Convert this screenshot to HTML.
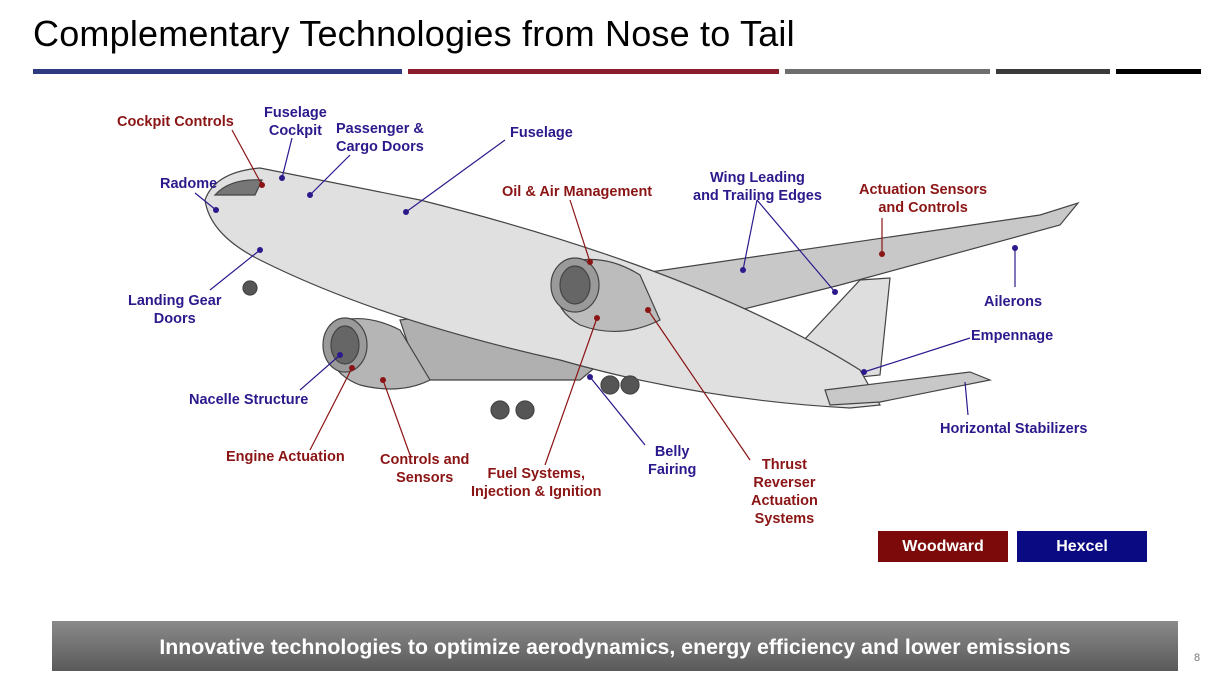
<!DOCTYPE html>
<html><head><meta charset="utf-8"><style>
body{margin:0;width:1217px;height:679px;background:#fff;position:relative;overflow:hidden;font-family:"Liberation Sans",Arial,sans-serif}
.t{position:absolute;left:33px;top:13px;font-size:36px;color:#000;letter-spacing:0.2px}
.bar{position:absolute;top:69px;height:5px}
.l{position:absolute;font-weight:bold;font-size:14.5px;text-align:center;line-height:18px;white-space:nowrap}
.r{color:#8b1414}.b{color:#2b1a8c}
.lg{position:absolute;top:531px;height:31px;width:130px;color:#fff;font-weight:bold;font-size:16px;text-align:center;line-height:31px}
.ban{position:absolute;left:52px;top:621px;width:1126px;height:50px;background:linear-gradient(#8a8a8a,#5a5a5a);color:#fff;font-weight:bold;font-size:21.3px;text-align:center;line-height:52px}
</style></head><body>
<div class="t">Complementary Technologies from Nose to Tail</div>
<div class="bar" style="left:33px;width:369px;background:#2e3a82"></div>
<div class="bar" style="left:408px;width:371px;background:#8b1e2c"></div>
<div class="bar" style="left:785px;width:205px;background:#6e6e6e"></div>
<div class="bar" style="left:996px;width:114px;background:#3a3a3a"></div>
<div class="bar" style="left:1116px;width:85px;background:#000"></div>
<svg style="position:absolute;left:0;top:0" width="1217" height="679">
<g stroke="#444" stroke-width="1.2" fill="#d4d4d4">
<polygon points="630,275 1040,215 1078,203 1060,225 840,285 700,320" fill="#c8c8c8"/>
<polygon points="790,355 860,280 890,278 880,375 830,380" fill="#dedede"/>
<polygon points="400,320 560,300 640,330 580,380 420,380" fill="#b0b0b0"/>
<path d="M205,200 Q215,172 260,168 L420,200 Q700,270 860,370 L880,405 L850,408 Q700,400 560,360 Q380,320 260,260 Q210,235 205,200 Z" fill="#e0e0e0"/>
<polygon points="825,390 970,372 990,380 880,402 830,405" fill="#c8c8c8"/>
<path d="M330,325 Q360,310 400,330 L430,380 Q400,395 360,385 Q320,370 330,325Z" fill="#b5b5b5"/>
<ellipse cx="345" cy="345" rx="22" ry="27" fill="#9a9a9a"/>
<ellipse cx="345" cy="345" rx="14" ry="19" fill="#666"/>
<path d="M560,265 Q600,250 640,275 L660,320 Q620,340 580,325 Q545,305 560,265Z" fill="#bcbcbc"/>
<ellipse cx="575" cy="285" rx="24" ry="27" fill="#9a9a9a"/>
<ellipse cx="575" cy="285" rx="15" ry="19" fill="#666"/>
<circle cx="250" cy="288" r="7" fill="#555"/><circle cx="500" cy="410" r="9" fill="#555"/><circle cx="525" cy="410" r="9" fill="#555"/><circle cx="610" cy="385" r="9" fill="#555"/><circle cx="630" cy="385" r="9" fill="#555"/>
<path d="M215,195 Q230,178 262,180 L255,195 Z" fill="#777"/>
</g>
<g stroke-width="1.2" fill="none">
<g stroke="#8b1414"><line x1="232" y1="130" x2="262" y2="185"/><line x1="570" y1="200" x2="590" y2="262"/><line x1="882" y1="218" x2="882" y2="254"/><line x1="310" y1="450" x2="352" y2="368"/><line x1="410" y1="455" x2="383" y2="380"/><line x1="545" y1="465" x2="597" y2="318"/><line x1="750" y1="460" x2="648" y2="310"/></g>
<g stroke="#2b1a8c"><line x1="292" y1="138" x2="282" y2="178"/><line x1="350" y1="155" x2="310" y2="195"/><line x1="505" y1="140" x2="406" y2="212"/><line x1="195" y1="193" x2="216" y2="210"/><line x1="210" y1="290" x2="260" y2="250"/><line x1="300" y1="390" x2="340" y2="355"/><line x1="757" y1="200" x2="743" y2="270"/><line x1="757" y1="200" x2="835" y2="292"/><line x1="1015" y1="248" x2="1015" y2="287"/><line x1="970" y1="338" x2="864" y2="372"/><line x1="965" y1="382" x2="968" y2="415"/><line x1="645" y1="445" x2="590" y2="377"/></g>
</g>
<g fill="#8b1414"><circle cx="262" cy="185" r="3"/><circle cx="590" cy="262" r="3"/><circle cx="882" cy="254" r="3"/><circle cx="352" cy="368" r="3"/><circle cx="383" cy="380" r="3"/><circle cx="597" cy="318" r="3"/><circle cx="648" cy="310" r="3"/></g>
<g fill="#2b1a8c"><circle cx="282" cy="178" r="3"/><circle cx="310" cy="195" r="3"/><circle cx="406" cy="212" r="3"/><circle cx="216" cy="210" r="3"/><circle cx="260" cy="250" r="3"/><circle cx="340" cy="355" r="3"/><circle cx="743" cy="270" r="3"/><circle cx="835" cy="292" r="3"/><circle cx="1015" cy="248" r="3"/><circle cx="864" cy="372" r="3"/><circle cx="590" cy="377" r="3"/></g>
</svg>
<div class="l r" style="left:117px;top:113px">Cockpit Controls</div>
<div class="l b" style="left:264px;top:104px">Fuselage<br>Cockpit</div>
<div class="l b" style="left:336px;top:120px">Passenger &amp;<br>Cargo Doors</div>
<div class="l b" style="left:510px;top:124px">Fuselage</div>
<div class="l b" style="left:160px;top:175px">Radome</div>
<div class="l r" style="left:502px;top:183px">Oil &amp; Air Management</div>
<div class="l b" style="left:693px;top:169px">Wing Leading<br>and Trailing Edges</div>
<div class="l r" style="left:859px;top:181px">Actuation Sensors<br>and Controls</div>
<div class="l b" style="left:128px;top:292px">Landing Gear<br>Doors</div>
<div class="l b" style="left:984px;top:293px">Ailerons</div>
<div class="l b" style="left:971px;top:327px">Empennage</div>
<div class="l b" style="left:189px;top:391px">Nacelle Structure</div>
<div class="l b" style="left:940px;top:420px">Horizontal Stabilizers</div>
<div class="l r" style="left:226px;top:448px">Engine Actuation</div>
<div class="l r" style="left:380px;top:451px">Controls and<br>Sensors</div>
<div class="l r" style="left:471px;top:465px">Fuel Systems,<br>Injection &amp; Ignition</div>
<div class="l b" style="left:648px;top:443px">Belly<br>Fairing</div>
<div class="l r" style="left:751px;top:456px">Thrust<br>Reverser<br>Actuation<br>Systems</div>
<div class="lg" style="left:878px;background:#7d0a0a">Woodward</div>
<div class="lg" style="left:1017px;background:#0a0a82">Hexcel</div>
<div class="ban">Innovative technologies to optimize aerodynamics, energy efficiency and lower emissions</div>
<div style="position:absolute;left:1194px;top:652px;font-size:11px;color:#777">8</div>
</body></html>
